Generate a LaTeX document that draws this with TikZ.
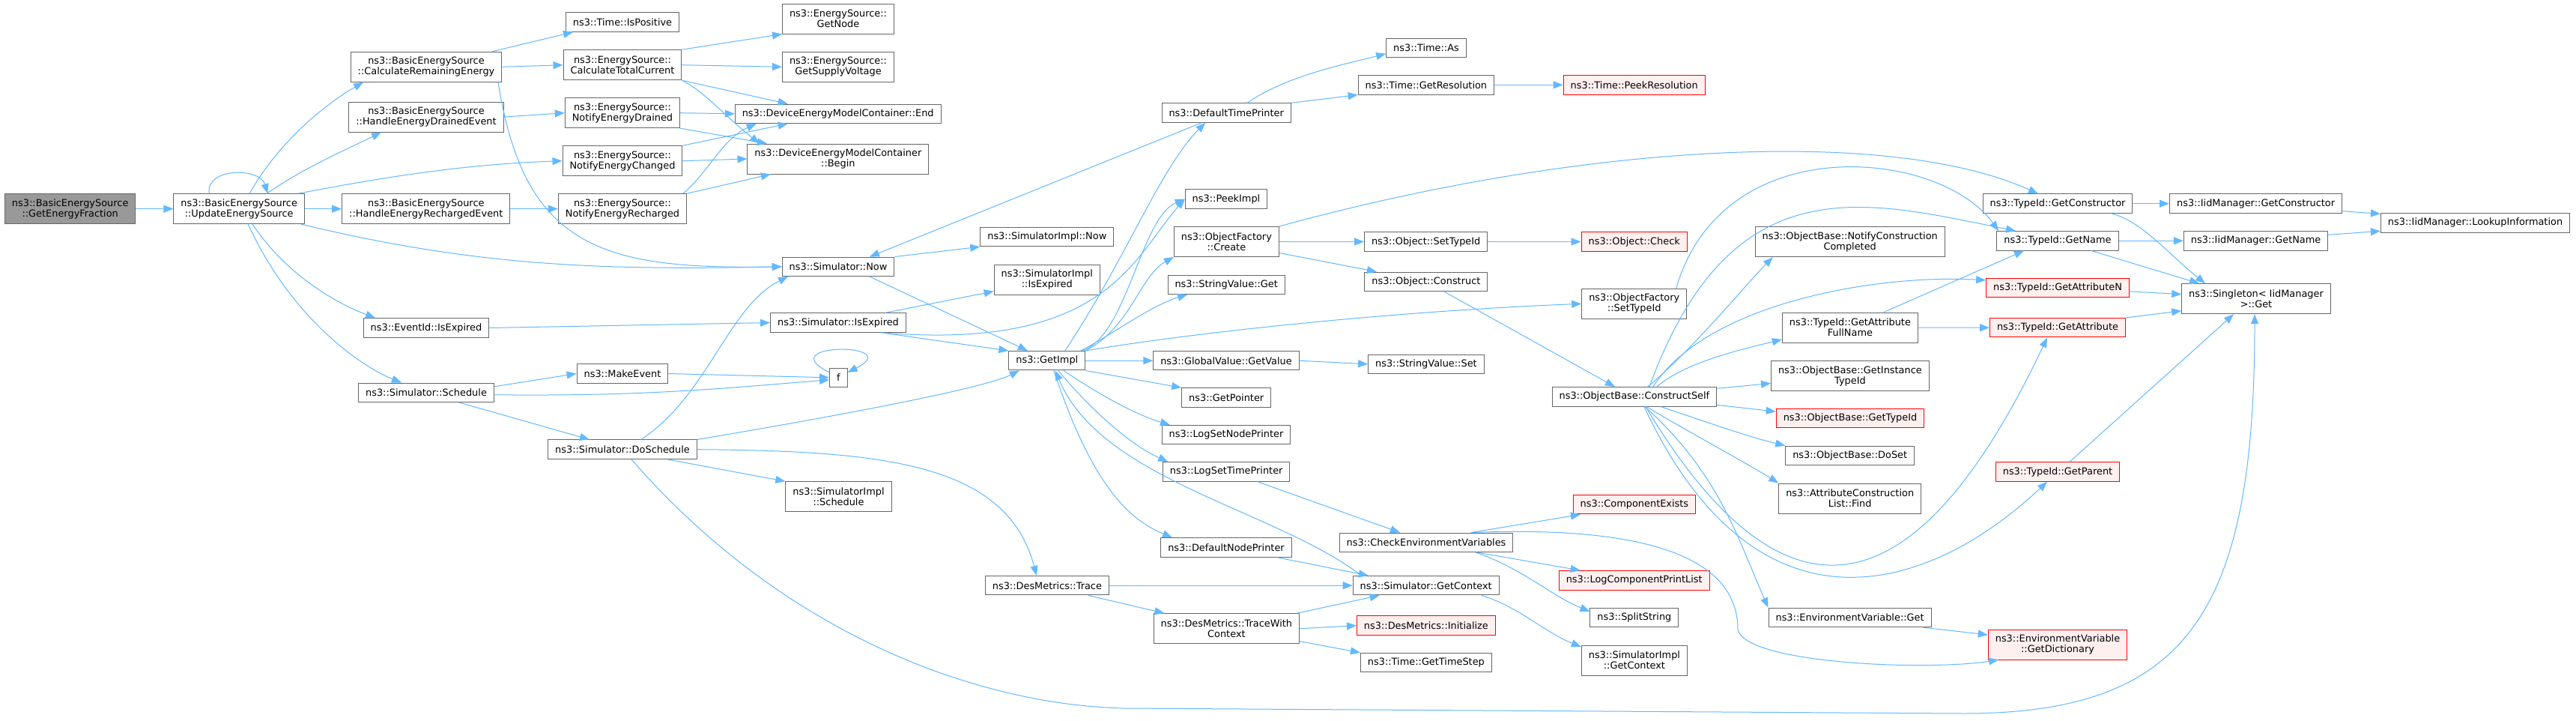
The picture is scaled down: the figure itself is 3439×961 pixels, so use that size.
\documentclass[tikz,border=0pt]{standalone}
\usepackage{fontspec}
\setmainfont{DejaVu Sans}
\usepackage{tikz}
\usetikzlibrary{arrows.meta, positioning, calc}
\usepackage{xcolor}
\definecolor{edgeblue}{HTML}{63B8FF}
\definecolor{boxgray}{HTML}{666666}
\definecolor{curfill}{HTML}{999999}
\definecolor{redfill}{HTML}{FFF0F0}
\tikzstyle{fn} = [rectangle, draw=boxgray, fill=white, line width=1pt, inner xsep=9.5pt, inner ysep=2pt, minimum height=25.5pt, align=center, font=\fontsize{12.9}{14}\selectfont]
\tikzstyle{two} = [minimum height=40pt]
\tikzstyle{fnred} = [fn, draw=red, fill=redfill]
\tikzstyle{fncur} = [fn, fill=curfill]
\tikzstyle{call} = [draw=edgeblue, line width=1pt, -{Triangle[length=13pt,width=10pt]}]

\begin{document}
\begin{tikzpicture}[x=1pt, y=-1pt]
    \path [fill=white, use as bounding box] (0,0) rectangle (3439,961);

    % callers
    \node (gef) [fncur, two] at (93.7,278.7) {ns3::BasicEnergySource\\::GetEnergyFraction};
    \node (ues) [fn, two] at (319.2,278.7) {ns3::BasicEnergySource\\::UpdateEnergySource};
    \node (cre) [fn, two] at (569,89.3) {ns3::BasicEnergySource\\::CalculateRemainingEnergy};
    \node (hede) [fn, two] at (569,156) {ns3::BasicEnergySource\\::HandleEnergyDrainedEvent};
    \node (here) [fn, two] at (568.8,278.7) {ns3::BasicEnergySource\\::HandleEnergyRechargedEvent};
    \node (eidexp) [fn] at (569,437.5) {ns3::EventId::IsExpired};
    \node (sched) [fn] at (569,523.8) {ns3::Simulator::Schedule};
    \node (tpos) [fn] at (831,29.5) {ns3::Time::IsPositive};
    \node (ctc) [fn, two] at (831,86.7) {ns3::EnergySource::\\CalculateTotalCurrent};
    \node (ned) [fn, two] at (831,150.7) {ns3::EnergySource::\\NotifyEnergyDrained};
    \node (nec) [fn, two] at (831,214.7) {ns3::EnergySource::\\NotifyEnergyChanged};
    \node (ner) [fn, two] at (831,278.7) {ns3::EnergySource::\\NotifyEnergyRecharged};
    \node (mkev) [fn] at (831,498.5) {ns3::MakeEvent};
    \node (dosch) [fn] at (831,599.7) {ns3::Simulator::DoSchedule};
    \node (gnode) [fn, two] at (1119,25) {ns3::EnergySource::\\GetNode};
    \node (gsv) [fn, two] at (1119,89.3) {ns3::EnergySource::\\GetSupplyVoltage};
    \node (dend) [fn] at (1118.7,151.8) {ns3::DeviceEnergyModelContainer::End};
    \node (dbegin) [fn, two] at (1118.9,212) {ns3::DeviceEnergyModelContainer\\::Begin};
    \node (now) [fn] at (1119,355.8) {ns3::Simulator::Now};
    \node (simexp) [fn] at (1119,430.5) {ns3::Simulator::IsExpired};
    \node (f) [fn] at (1119.3,503.8) {f};
    \node (siSched) [fn, two] at (1119.5,662.7) {ns3::SimulatorImpl\\::Schedule};

    % simulator internals
    \node (siNow) [fn] at (1397.8,316) {ns3::SimulatorImpl::Now};
    \node (siExp) [fn, two] at (1397.8,373.2) {ns3::SimulatorImpl\\::IsExpired};
    \node (getimpl) [fn] at (1397.8,481.2) {ns3::GetImpl};
    \node (dmTrace) [fn] at (1397.9,781.2) {ns3::DesMetrics::Trace};
    \node (dtp) [fn] at (1637.2,150.5) {ns3::DefaultTimePrinter};
    \node (peek) [fn] at (1637,265.5) {ns3::PeekImpl};
    \node (ofCreate) [fn, two] at (1637.4,322.5) {ns3::ObjectFactory\\::Create};
    \node (svGet) [fn] at (1637.2,379.8) {ns3::StringValue::Get};
    \node (gvGet) [fn] at (1637,481.2) {ns3::GlobalValue::GetValue};
    \node (gptr) [fn] at (1637.2,530.5) {ns3::GetPointer};
    \node (lsnp) [fn] at (1637,580.2) {ns3::LogSetNodePrinter};
    \node (lstp) [fn] at (1637.2,629.3) {ns3::LogSetTimePrinter};
    \node (dnp) [fn] at (1637,730.5) {ns3::DefaultNodePrinter};
    \node (dmTwc) [fn, two] at (1637.4,838.7) {ns3::DesMetrics::TraceWith\\Context};

    \node (tAs) [fn] at (1904,63.8) {ns3::Time::As};
    \node (tRes) [fn] at (1903.9,113.3) {ns3::Time::GetResolution};
    \node (oSet) [fn] at (1903.7,322.5) {ns3::Object::SetTypeId};
    \node (oConstruct) [fn] at (1903.9,375.8) {ns3::Object::Construct};
    \node (svSet) [fn] at (1903.9,485.8) {ns3::StringValue::Set};
    \node (chkenv) [fn] at (1904,723.8) {ns3::CheckEnvironmentVariables};
    \node (simCtx) [fn] at (1903.7,781.2) {ns3::Simulator::GetContext};
    \node (dmInit) [fnred] at (1903.9,834.7) {ns3::DesMetrics::Initialize};
    \node (tStep) [fn] at (1903.9,884) {ns3::Time::GetTimeStep};

    \node (tPeekRes) [fnred] at (2181.7,113.3) {ns3::Time::PeekResolution};
    \node (oCheck) [fnred] at (2181.7,322.5) {ns3::Object::Check};
    \node (ofSet) [fn, two] at (2181.7,405.3) {ns3::ObjectFactory\\::SetTypeId};
    \node (cself) [fn] at (2181.9,529.3) {ns3::ObjectBase::ConstructSelf};
    \node (compEx) [fnred] at (2181.9,673.2) {ns3::ComponentExists};
    \node (lcpl) [fnred] at (2181.7,774.3) {ns3::LogComponentPrintList};
    \node (split) [fn] at (2181.9,823.8) {ns3::SplitString};
    \node (siCtx) [fn, two] at (2181.9,881) {ns3::SimulatorImpl\\::GetContext};

    % object base and type ids
    \node (ncc) [fn, two] at (2469.7,322.7) {ns3::ObjectBase::NotifyConstruction\\Completed};
    \node (gafn) [fn, two] at (2469.9,437) {ns3::TypeId::GetAttribute\\FullName};
    \node (git) [fn, two] at (2469.9,501.5) {ns3::ObjectBase::GetInstance\\TypeId};
    \node (gtid) [fnred] at (2470,558.2) {ns3::ObjectBase::GetTypeId};
    \node (doset) [fn] at (2469.7,607.8) {ns3::ObjectBase::DoSet};
    \node (acl) [fn, two] at (2469.7,665) {ns3::AttributeConstruction\\List::Find};
    \node (evGet) [fn] at (2469.6,823.8) {ns3::EnvironmentVariable::Get};
    \node (tGetCons) [fn] at (2747,271.7) {ns3::TypeId::GetConstructor};
    \node (tGetName) [fn] at (2747,321.3) {ns3::TypeId::GetName};
    \node (tGetAttrN) [fnred] at (2747,383.8) {ns3::TypeId::GetAttributeN};
    \node (tGetAttr) [fnred] at (2747,437.2) {ns3::TypeId::GetAttribute};
    \node (tGetParent) [fnred] at (2747,629.5) {ns3::TypeId::GetParent};
    \node (evDict) [fnred, two] at (2747,860) {ns3::EnvironmentVariable\\::GetDictionary};
    \node (iidCons) [fn] at (3011.6,271.7) {ns3::IidManager::GetConstructor};
    \node (iidName) [fn] at (3011.6,321.3) {ns3::IidManager::GetName};
    \node (single) [fn, two] at (3012,398.7) {ns3::Singleton< IidManager\\ >::Get};
    \node (lookup) [fn] at (3304.5,297.3) {ns3::IidManager::LookupInformation};

    \coordinate (lowleft) at (1500,945);
    \coordinate (lowright) at (2620,952);
    \coordinate (envbend) at (2320,840);

    % plain calls
    \foreach \i/\j in {gef.east/ues.west, ues.east/here.west, cre.east/ctc.west, hede.east/ned.west, here.east/ner.west, ctc.east/gsv.west, ctc.north east/gnode.south west, ned.east/dend.west, nec.east/dbegin.west, eidexp.east/simexp.west, mkev.east/f.west, now.north east/siNow.south west, getimpl.east/gvGet.west, getimpl.south east/gptr.north west, gvGet.east/svSet.west, dtp.north east/tRes.south west, tRes.east/tPeekRes.west, ofCreate.east/oSet.west, oSet.east/oCheck.west, dmTrace.east/simCtx.west, dmTwc.east/dmInit.west, gafn.east/tGetAttr.west, tGetCons.east/iidCons.west, tGetName.east/iidName.west} {
        \draw [call] (\i) -- (\j);
    }

    % UpdateEnergySource
    \draw [call] ([xshift=-40pt]ues.north) .. controls +(-5,-35) and +(-10,-35) .. ([xshift=38pt]ues.north);
    \draw [call] ([xshift=14pt]ues.north) .. controls +(45,-80) and +(-35,20) .. ([xshift=-84pt]cre.south);
    \draw [call] ([xshift=37pt]ues.north) .. controls +(50,-35) and +(-40,20) .. ([xshift=-60pt]hede.south);
    \draw [call] ([xshift=79pt]ues.north) .. controls +(80,-15) and +(-150,5) .. (nec.west);
    \draw [call] ([xshift=83pt]ues.south) .. controls +(230,55) and +(-250,5) .. (now.west);
    \draw [call] ([xshift=18pt]ues.south) .. controls +(50,75) and +(-40,-15) .. ([xshift=-68pt]eidexp.north);
    \draw [call] ([xshift=12pt]ues.south) .. controls +(60,130) and +(-50,-20) .. ([xshift=-33pt]sched.north);

    % energy source
    \draw [call] ([xshift=88pt]cre.north) -- ([xshift=-66pt]tpos.south);
    \draw [call] ([xshift=96pt]cre.south) .. controls +(35,220) and +(-242,4) .. (now.west);
    \draw [call] (ctc.south east) -- ([xshift=-67pt]dend.north);
    \draw [call] (ctc.south east) .. controls +(30,15) and +(-50,-40) .. ([xshift=-105pt]dbegin.north);
    \draw [call] (ned.south east) -- ([xshift=-95pt]dbegin.north);
    \draw [call] (nec.north east) -- ([xshift=-67pt]dend.south);
    \draw [call] ([xshift=81pt]ner.north) .. controls +(35,-30) and +(-45,20) .. ([xshift=-109pt]dend.south);
    \draw [call] (ner.north east) -- ([xshift=-90pt]dbegin.south);

    % scheduling
    \draw [call] ([yshift=8pt]sched.east) -- (mkev.west);
    \draw [call] ([yshift=-3pt]sched.east) .. controls +(200,2) and +(-150,12) .. ([yshift=-3pt]f.west);
    \draw [call] ([xshift=44pt]sched.south) -- ([xshift=-44pt]dosch.north);
    \draw [call] ([yshift=7pt]f.west) .. controls +(-80,-40) and +(80,-40) .. ([yshift=7pt]f.east);
    \draw [call] ([xshift=25pt]dosch.north) .. controls +(90,-60) and +(-80,40) .. ([xshift=-67pt]now.south);
    \draw [call] (dosch.north east) .. controls +(167,-28) and +(-50,25) .. ([xshift=-37pt]getimpl.south);
    \draw [call] ([xshift=60pt]dosch.south) -- (siSched.north west);
    \draw [call] (dosch.east) .. controls +(250,2) and +(-40,-150) .. ([xshift=-14pt]dmTrace.north);
    \draw [call] ([xshift=12pt]dosch.south) .. controls +(200,230) and +(-200,-5) .. (lowleft) -- (lowright) .. controls +(300,0) and +(0,400) .. ([xshift=-2pt]single.south);

    % Now, IsExpired, GetImpl
    \draw [call] ([xshift=-33pt]dtp.south) -- ([xshift=42pt]now.north);
    \draw [call] ([xshift=42pt]now.south) -- ([xshift=-26pt]getimpl.north);
    \draw [call] ([xshift=63pt]simexp.north) -- ([yshift=5pt]siExp.south west);
    \draw [call] ([xshift=57pt]simexp.south) -- (getimpl.north west);
    \draw [call] ([xshift=57pt]simexp.south) .. controls +(300,25) and +(-70,80) .. (peek.west);
    \draw [call] ([xshift=24pt]getimpl.north) .. controls +(80,-120) and +(-60,60) .. ([xshift=-28pt]dtp.south);
    \draw [call] ([xshift=47pt]getimpl.north) .. controls +(60,-20) and +(-59,25) .. (peek.west);
    \draw [call] ([xshift=51pt]getimpl.north) .. controls +(60,-30) and +(-45,25) .. (ofCreate.south west);
    \draw [call] ([xshift=45pt]getimpl.north) .. controls +(40,-20) and +(-50,15) .. ([xshift=-52pt]svGet.south);
    \draw [call] (getimpl.north east) .. controls +(150,-25) and +(-250,10) .. (ofSet.west);
    \draw [call] ([xshift=22pt]getimpl.south) .. controls +(60,40) and +(-40,-12) .. ([xshift=-75pt]lsnp.north);
    \draw [call] ([xshift=15pt]getimpl.south) .. controls +(50,60) and +(-45,-20) .. ([xshift=-78pt]lstp.north);
    \draw [call] ([xshift=9pt]getimpl.south) .. controls +(50,150) and +(-60,-25) .. ([xshift=-72pt]dnp.north);

    % context and metrics
    \draw [call] ([xshift=-86pt]simCtx.north) .. controls +(-118,-89) and +(61,146) .. ([xshift=11pt]getimpl.south);
    \draw [call] ([xshift=41pt]lstp.south) -- ([xshift=-35pt]chkenv.north);
    \draw [call] ([xshift=68pt]dnp.south) -- ([xshift=-77pt]simCtx.north);
    \draw [call] ([xshift=55pt]dmTrace.south) -- ([xshift=-83pt]dmTwc.north);
    \draw [call] ([xshift=94pt]dmTwc.north) -- ([xshift=-62pt]simCtx.south);
    \draw [call] ([yshift=-17pt]dmTwc.east) -- (tStep.north west);
    \draw [call] ([xshift=74pt]simCtx.south) .. controls +(50,15) and +(-50,-20) .. ([yshift=18pt]siCtx.west);
    \draw [call] ([xshift=60pt]chkenv.north) -- ([xshift=-72pt]compEx.south);
    \draw [call] ([xshift=68pt]chkenv.south) -- ([xshift=-72pt]lcpl.north);
    \draw [call] ([xshift=66pt]chkenv.south) .. controls +(60,20) and +(-50,-20) .. ([yshift=8pt]split.west);
    \draw [call] ([xshift=60pt]chkenv.north) .. controls +(250,-10) and +(0,-90) .. (envbend) .. controls +(10,45) and +(-100,15) .. ([xshift=-79pt]evDict.south);

    % time printer
    \draw [call] ([xshift=28pt]dtp.north) .. controls +(50,-35) and +(-60,15) .. ([yshift=-8pt]tAs.west);

    % object factory
    \draw [call] (ofCreate.north east) .. controls +(400,-110) and +(-200,-90) .. ([xshift=-26pt]tGetCons.north);
    \draw [call] ([yshift=-15pt]ofCreate.east) -- ([xshift=-66pt]oConstruct.north);
    \draw [call] ([xshift=24pt]oConstruct.south) -- ([xshift=-26pt]cself.north);
    \draw [call] ([xshift=56pt]ofSet.north) .. controls +(62,-215) and +(-78,-109) .. ([xshift=-79pt]tGetName.north);

    % ConstructSelf
    \draw [call] ([xshift=18pt]cself.north) .. controls +(60,-50) and +(-30,30) .. ([xshift=-103pt]ncc.south);
    \draw [call] ([yshift=11pt]cself.east) -- ([yshift=-10pt]git.west);
    \draw [call] ([yshift=-11pt]cself.east) -- ([yshift=9pt]gtid.west);
    \draw [call] ([xshift=35pt]cself.south) .. controls +(60,20) and +(-50,-12) .. (doset.north west);
    \draw [call] ([xshift=16pt]cself.south) .. controls +(50,30) and +(-40,-25) .. (acl.north west);
    \draw [call] ([xshift=14pt]cself.south) .. controls +(100,90) and +(-40,-90) .. (evGet.north west);
    \draw [call] ([xshift=30pt]cself.north) .. controls +(40,-35) and +(-40,10) .. ([yshift=-16pt]gafn.west);
    \draw [call] ([xshift=20pt]cself.north) .. controls +(110,-300) and +(-200,-40) .. ([xshift=-56pt]tGetName.north);
    \draw [call] ([xshift=25pt]cself.north) .. controls +(70,-110) and +(-150,-8) .. ([yshift=10pt]tGetAttrN.west);
    \draw [call] ([xshift=15pt]cself.south) .. controls +(180,300) and +(-180,380) .. ([xshift=-14pt]tGetAttr.south);
    \draw [call] ([xshift=13pt]cself.south) .. controls +(150,320) and +(-160,150) .. ([xshift=-14pt]tGetParent.south);

    % type ids
    \draw [call] ([xshift=45pt]gafn.north) -- ([xshift=-45pt]tGetName.south);
    \draw [call] ([xshift=72pt]tGetCons.south) .. controls +(40,10) and +(-50,-40) .. ([xshift=-68pt]single.north);
    \draw [call] ([xshift=45pt]tGetName.south) -- ([xshift=-76pt]single.north);
    \draw [call] ([yshift=-5pt]tGetAttrN.east) -- ([yshift=6pt]single.west);
    \draw [call] (tGetAttr.north east) -- ([yshift=-16pt]single.west);
    \draw [call] ([xshift=16pt]tGetParent.north) -- ([xshift=-30pt]single.south);
    \draw [call] ([yshift=-10pt]iidCons.east) -- ([yshift=12pt]lookup.west);
    \draw [call] ([yshift=8pt]iidName.east) -- ([yshift=-11pt]lookup.west);
    \draw [call] ([xshift=-12pt]evGet.south east) -- ([yshift=13pt]evDict.west);
\end{tikzpicture}
\end{document}
